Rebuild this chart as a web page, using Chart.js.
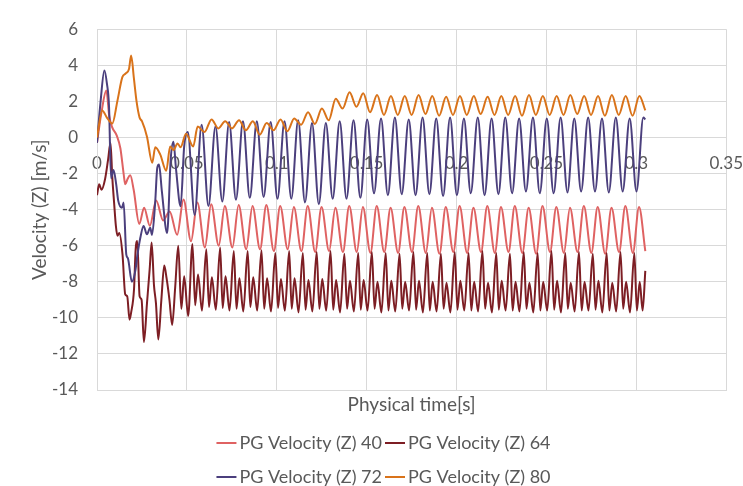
<!DOCTYPE html>
<html>
<head>
<meta charset="utf-8">
<script src="https://cdn.jsdelivr.net/npm/chart.js@4.4.1/dist/chart.umd.min.js"></script>
<style>
  html, body { margin: 0; padding: 0; background: #ffffff; }
  #wrap { width: 743px; height: 486px; position: relative; }
</style>
</head>
<body>
<div id="wrap"><canvas id="chart" width="743" height="486"></canvas></div>
<script>
// Axis ticks
const xTickValues = [0, 0.05, 0.1, 0.15, 0.2, 0.25, 0.3, 0.35];
const xTickLabels = ['0', '0.05', '0.1', '0.15', '0.2', '0.25', '0.3', '0.35'];
const yTickValues = [-14, -12, -10, -8, -6, -4, -2, 0, 2, 4, 6];
const yTickLabels = ['-14', '-12', '-10', '-8', '-6', '-4', '-2', '0', '2', '4', '6'];

const seriesNames = ['PG Velocity (Z) 40', 'PG Velocity (Z) 64', 'PG Velocity (Z) 72', 'PG Velocity (Z) 80'];

// PG Velocity (Z) 40 : time [s] / velocity [m/s]
const time40 = [0,0.0025,0.0052,0.0068,0.0083,0.011,0.013,0.0148,0.0157,0.017,0.0185,0.0204,0.0235,0.0262,0.0294,0.0329,0.0368,0.0404,0.0446,
  0.0481,0.0523,0.0558,0.06,0.0635,0.0677,0.0711,0.0753,0.0788,0.083,
  0.0865,0.0907,0.0942,0.0984,0.1019,0.1061,0.1095,0.1137,0.1172,0.1214,
  0.1249,0.1291,0.1326,0.1368,0.1403,0.1445,0.1479,0.1521,0.1556,0.1598,
  0.1633,0.1675,0.171,0.1752,0.1787,0.1829,0.1863,0.1905,0.194,0.1982,
  0.2017,0.2059,0.2094,0.2136,0.2171,0.2213,0.2247,0.2289,0.2324,0.2366,
  0.2401,0.2443,0.2478,0.252,0.2555,0.2597,0.2631,0.2673,0.2708,0.275,
  0.2785,0.2827,0.2862,0.2904,0.2939,0.2981,0.3015,0.305];
const vel40 = [-0.3,1.4,2.6,1.2,0.6,0.1,-0.6,-2.0,-2.6,-2.3,-2.1,-2.9,-4.8,-3.9,-4.9,-3.5,-4.6,-4.1,-5.4,
  -3.44,-5.75,-3.6,-6.1,-3.7,-6.0,-3.8,-6.1,-3.75,-6.2,
  -3.8,-6.2,-3.75,-6.3,-3.8,-6.2,-3.85,-6.3,-3.8,-6.35,
  -3.85,-6.3,-3.9,-6.35,-3.8,-6.35,-3.85,-6.4,-3.8,-6.35,
  -3.9,-6.4,-3.85,-6.35,-3.8,-6.4,-3.9,-6.45,-3.85,-6.35,
  -3.8,-6.4,-3.9,-6.35,-3.8,-6.4,-3.85,-6.35,-3.8,-6.4,
  -3.9,-6.45,-3.8,-6.35,-3.85,-6.4,-3.9,-6.35,-3.8,-6.4,
  -3.85,-6.45,-3.9,-6.35,-3.8,-6.4,-3.85,-6.3];

// PG Velocity (Z) 64
const time64 = [0,0.0012,0.0025,0.0045,0.0062,0.0075,0.0085,0.0095,0.0105,0.0114,0.0124,0.0142,0.0157,0.0168,0.0181,0.019,0.0206,0.0215,0.0224,0.0237,0.0248,0.0261,0.0278,0.0293,0.0304,0.0317,0.0328,0.0341,0.0358,0.0374,0.0387,0.0403,0.0418,0.0435,0.0452,
  0.0469,0.0485,0.0507,0.0531, 0.0546,0.0562,0.0584,0.0608,
  0.0623,0.0639,0.0661,0.0685, 0.0699,0.0715,0.0737,0.0761,
  0.0776,0.0792,0.0814,0.0838, 0.0853,0.0869,0.0891,0.0915,
  0.093,0.0946,0.0968,0.0992, 0.1007,0.1023,0.1045,0.1069,
  0.1083,0.1099,0.1121,0.1145, 0.116,0.1176,0.1198,0.1222,
  0.1237,0.1253,0.1275,0.1299, 0.1314,0.133,0.1352,0.1376,
  0.1391,0.1407,0.1429,0.1453, 0.1467,0.1483,0.1505,0.1529,
  0.1544,0.156,0.1582,0.1606, 0.1621,0.1637,0.1659,0.1683,
  0.1698,0.1714,0.1736,0.176, 0.1775,0.1791,0.1813,0.1837,
  0.1851,0.1867,0.1889,0.1913, 0.1928,0.1944,0.1966,0.199,
  0.2005,0.2021,0.2043,0.2067, 0.2082,0.2098,0.212,0.2144,
  0.2159,0.2175,0.2197,0.2221, 0.2235,0.2251,0.2273,0.2297,
  0.2312,0.2328,0.235,0.2374, 0.2389,0.2405,0.2427,0.2451,
  0.2466,0.2482,0.2504,0.2528, 0.2543,0.2559,0.2581,0.2605,
  0.2619,0.2635,0.2657,0.2681, 0.2696,0.2712,0.2734,0.2758,
  0.2773,0.2789,0.2811,0.2835, 0.285,0.2866,0.2888,0.2912,
  0.2927,0.2943,0.2965,0.2989, 0.3003,0.3019,0.3035,0.305];
const vel64 = [-3.2,-2.6,-2.9,-2.3,-1.2,-0.3,-2.2,-3.6,-4.9,-5.45,-5.3,-6.5,-8.7,-8.8,-10.1,-9.7,-8.4,-6.2,-5.74,-8.8,-9.0,-11.34,-9.2,-7.3,-5.83,-8.2,-9.2,-11.2,-9.0,-7.1,-7.8,-9.0,-10.4,-8.3,-6.0,
  -9.5,-7.7,-9.9,-5.9, -9.3,-7.6,-9.6,-6.2,
  -9.4,-7.75,-9.55,-6.1, -9.45,-7.7,-9.6,-6.3,
  -9.5,-7.8,-9.65,-6.3, -9.4,-7.75,-9.6,-6.25,
  -9.5,-7.8,-9.65,-6.4, -9.45,-7.85,-9.6,-6.3,
  -9.5,-7.8,-9.7,-6.4, -9.55,-7.9,-9.65,-6.35,
  -9.5,-7.85,-9.6,-6.3, -9.55,-7.9,-9.7,-6.45,
  -9.5,-7.95,-9.65,-6.4, -9.55,-7.9,-9.6,-6.35,
  -9.5,-8.0,-9.7,-6.4, -9.6,-7.95,-9.65,-6.45,
  -9.5,-8.0,-9.6,-6.35, -9.55,-7.95,-9.7,-6.4,
  -9.6,-8.0,-9.65,-6.45, -9.5,-8.05,-9.7,-6.35,
  -9.55,-7.95,-9.6,-6.4, -9.6,-8.0,-9.65,-6.3,
  -9.5,-8.05,-9.7,-6.4, -9.55,-7.95,-9.6,-6.45,
  -9.6,-8.0,-9.65,-6.35, -9.5,-8.05,-9.7,-6.4,
  -9.6,-8.0,-9.6,-6.3, -9.55,-7.95,-9.7,-6.4,
  -9.5,-8.05,-9.65,-6.35, -9.6,-8.0,-9.6,-6.45,
  -9.55,-7.95,-9.7,-6.4, -9.6,-8.05,-9.65,-6.35,
  -9.5,-8.0,-9.7,-6.4, -9.6,-8.0,-9.6,-7.4];

// PG Velocity (Z) 72
const time72 = [0,0.002,0.0041,0.0055,0.0067,0.0078,0.0092,0.0107,0.0118,0.0139,0.0148,0.0163,0.0172,0.0194,0.0213,0.0225,0.0241,0.0259,0.0278,0.0296,0.0306,0.0324,0.0335,0.0345,0.0361,0.039,0.041,0.0425,0.044,0.0465,0.0485,
  0.0505,0.0543,0.0582,0.062,0.0659,0.0697,0.0735,0.0773,0.0812,0.085,
  0.0889,0.0927,0.0966,0.1004,0.1043,0.1081,0.1119,0.1157,0.1196,0.1234,
  0.1273,0.1311,0.135,0.1388,0.1427,0.1465,0.1503,0.1541,0.158,0.1618,
  0.1657,0.1695,0.1734,0.1772,0.1811,0.1849,0.1887,0.1925,0.1964,0.2002,
  0.2041,0.2079,0.2118,0.2156,0.2195,0.2233,0.2271,0.2309,0.2348,0.2386,
  0.2425,0.2463,0.2502,0.254,0.2579,0.2617,0.2655,0.2693,0.2732,0.277,
  0.2809,0.2847,0.2886,0.2924,0.2963,0.3001,0.3039,0.305];
const vel72 = [-0.3,2.0,3.71,3.0,1.7,-2.26,-1.8,-2.62,-3.5,-3.9,-3.6,-6.5,-6.7,-8.0,-7.4,-6.5,-5.56,-4.91,-5.37,-5.0,-5.4,-3.54,-1.7,-1.5,-3.0,-5.3,-1.2,-0.24,-1.8,-3.81,-0.5,
  0.3,-4.3,0.7,-3.8,0.6,-3.55,0.85,-3.45,0.9,-3.35,
  0.9,-3.3,0.85,-3.4,0.9,-3.4,0.95,-3.6,0.8,-3.7,
  0.8,-3.4,0.9,-3.4,0.95,-3.35,1.0,-3.1,1.05,-3.2,
  1.1,-3.15,1.0,-3.2,1.1,-3.15,1.05,-3.25,1.1,-3.2,
  1.05,-3.1,1.1,-3.2,1.05,-3.15,1.1,-3.1,1.05,-3.0,
  1.1,-3.1,1.05,-3.1,1.1,-3.05,1.05,-3.0,1.1,-3.0,
  1.05,-3.05,1.1,-3.0,1.05,-3.0,1.1,1.0];

// PG Velocity (Z) 80
const time80 = [0,0.0029,0.0055,0.0085,0.0113,0.0141,0.016,0.0178,0.019,0.0205,0.022,0.0237,0.025,0.0278,0.0307,0.0324,0.0352,0.0385,0.0407,0.0426,0.0448,0.0465,
  0.0495,0.0535,0.056,0.0598,0.0637,0.0675,0.0713,0.0751,0.079,0.0828,
  0.0867,0.0905,0.0944,0.0982,0.1021,0.1059,0.1097,0.1135,0.1174,0.1212,
  0.1251,0.1289,0.1328,0.1366,0.1405,0.1443,0.1481,0.1519,0.1558,0.1596,
  0.1635,0.1673,0.1712,0.175,0.1789,0.1827,0.1865,0.1903,0.1942,0.198,
  0.2019,0.2057,0.2096,0.2134,0.2173,0.2211,0.2249,0.2287,0.2326,0.2364,
  0.2403,0.2441,0.248,0.2518,0.2557,0.2595,0.2633,0.2671,0.271,0.2748,
  0.2787,0.2825,0.2864,0.2902,0.2941,0.2979,0.3017,0.305];
const vel80 = [0.0,1.5,1.1,0.77,2.0,3.34,3.55,3.8,4.54,3.3,2.0,1.1,0.9,0.04,-1.4,-0.55,-0.95,-1.85,-0.5,-0.7,-0.33,-0.55,
  0.2,-0.5,0.6,0.3,1.0,0.5,0.9,0.5,0.95,0.4,
  0.9,0.15,0.8,0.4,1.0,0.35,1.05,0.7,1.4,0.75,
  1.6,0.95,2.15,1.6,2.5,1.7,2.45,1.4,2.35,1.25,
  2.3,1.25,2.3,1.25,2.35,1.3,2.3,1.2,2.25,1.25,
  2.3,1.25,2.3,1.3,2.25,1.25,2.3,1.25,2.3,1.2,
  2.35,1.25,2.3,1.25,2.3,1.25,2.35,1.3,2.3,1.25,
  2.3,1.2,2.35,1.25,2.3,1.2,2.3,1.5];

const seriesTimes = [time40, time64, time72, time80];
const seriesValues = [vel40, vel64, vel72, vel80];
const seriesColors = ['#df6262', '#7d1e24', '#4b3f7d', '#d9731a'];

const FONT = 'Lato, "Open Sans", sans-serif';
const TEXT_COLOR = '#595959';
const GRID_COLOR = '#d9d9d9';

Chart.defaults.font.family = FONT;
Chart.defaults.color = TEXT_COLOR;

const datasets = seriesNames.map((name, i) => ({
  label: name,
  data: seriesTimes[i].map((t, j) => ({ x: t, y: seriesValues[i][j] })),
  borderColor: seriesColors[i],
  backgroundColor: seriesColors[i],
  borderWidth: 2,
  pointRadius: 0,
  fill: false,
  tension: 0.4,
  cubicInterpolationMode: 'monotone',
  order: seriesNames.length - i
}));

// Legend laid out as a two-by-two grid under the axis title
const gridLegend = {
  id: 'gridLegend',
  afterDraw(chart) {
    const ctx = chart.ctx;
    const rows = [[0, 1], [2, 3]];
    const rowY = [443, 477];
    const centerX = 383.5;
    const lineLen = 20, textGap = 3, itemGap = 3;
    ctx.save();
    ctx.font = '18px ' + FONT;
    ctx.textBaseline = 'middle';
    ctx.textAlign = 'left';
    const colW = [0, 1].map(c => Math.max(...rows.map(r => ctx.measureText(chart.data.datasets[r[c]].label).width)));
    const total = lineLen + textGap + colW[0] + itemGap + lineLen + textGap + colW[1];
    rows.forEach((row, r) => {
      let x = centerX - total / 2;
      row.forEach((idx, c) => {
        const ds = chart.data.datasets[idx];
        ctx.strokeStyle = ds.borderColor;
        ctx.lineWidth = 2;
        ctx.beginPath();
        ctx.moveTo(x, rowY[r]);
        ctx.lineTo(x + lineLen, rowY[r]);
        ctx.stroke();
        ctx.fillStyle = TEXT_COLOR;
        ctx.fillText(ds.label, x + lineLen + textGap, rowY[r]);
        x += lineLen + textGap + colW[c] + itemGap;
      });
    });
    ctx.restore();
  }
};

const setTicks = (values) => (scale) => { scale.ticks = values.map(v => ({ value: v })); };

new Chart(document.getElementById('chart'), {
  type: 'line',
  data: { datasets },
  options: {
    responsive: false,
    animation: false,
    devicePixelRatio: 1,
    parsing: false,
    layout: { padding: { left: 0, right: 0, top: 26, bottom: 70 } },
    plugins: {
      legend: { display: false },
      tooltip: { enabled: false }
    },
    scales: {
      x: {
        type: 'linear',
        position: 'bottom',
        min: 0,
        max: 0.35,
        afterBuildTicks: setTicks(xTickValues),
        ticks: { display: false },
        grid: { color: GRID_COLOR, lineWidth: 1, drawTicks: false },
        border: { color: GRID_COLOR },
        title: {
          display: true,
          text: 'Physical time[s]',
          font: { size: 19 },
          color: TEXT_COLOR,
          padding: { top: 0, bottom: 0 }
        },
        afterFit: (s) => { s.height = 26; }
      },
      // Tick labels sitting under the zero line
      xLabels: {
        type: 'linear',
        axis: 'x',
        position: { y: 0 },
        min: 0,
        max: 0.35,
        afterBuildTicks: setTicks(xTickValues),
        ticks: {
          padding: 0,
          font: { size: 17 },
          color: TEXT_COLOR,
          maxRotation: 0,
          autoSkip: false,
          callback: (v, i) => xTickLabels[i]
        },
        grid: { display: false, drawTicks: true, tickLength: 16 },
        border: { display: false }
      },
      y: {
        type: 'linear',
        position: 'left',
        min: -14,
        max: 6,
        afterBuildTicks: setTicks(yTickValues),
        ticks: {
          padding: 19,
          font: { size: 17 },
          color: TEXT_COLOR,
          autoSkip: false,
          callback: (v, i) => yTickLabels[i]
        },
        grid: { color: GRID_COLOR, lineWidth: 1, drawTicks: false },
        border: { color: GRID_COLOR },
        title: {
          display: true,
          text: 'Velocity (Z) [m/s]',
          font: { size: 19 },
          color: TEXT_COLOR,
          padding: { top: 28, bottom: 0 }
        },
        afterFit: (s) => { s.width = 97; }
      }
    }
  },
  plugins: [gridLegend]
});
</script>
</body>
</html>
